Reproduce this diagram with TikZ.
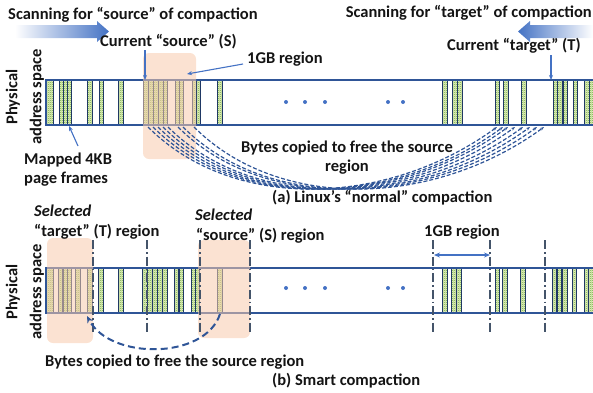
\documentclass[tikz,border=0pt]{standalone}
\usepackage{fontspec}
\setmainfont{Carlito}
\usetikzlibrary{patterns,arrows.meta}
\definecolor{barblue}{RGB}{47,85,151}
\definecolor{arrblue}{RGB}{68,114,196}
\definecolor{stripeedge}{RGB}{31,56,100}
\definecolor{stripefill}{RGB}{228,238,190}
\definecolor{stripedot}{RGB}{112,173,71}
\definecolor{peach}{RGB}{248,203,173}
\definecolor{vline}{RGB}{68,84,106}
\definecolor{txt}{RGB}{20,20,20}
\pgfdeclarepatternformonly{finecheck}{\pgfqpoint{0pt}{0pt}}{\pgfqpoint{2pt}{2pt}}{\pgfqpoint{2pt}{2pt}}{%
  \pgfpathrectangle{\pgfqpoint{0pt}{0pt}}{\pgfqpoint{1pt}{1pt}}%
  \pgfpathrectangle{\pgfqpoint{1pt}{1pt}}{\pgfqpoint{1pt}{1pt}}%
  \pgfusepath{fill}}
\tikzset{
  lbl/.style={font=\fontsize{16.5}{19}\selectfont\bfseries, text=txt, inner sep=0pt},
  stripe/.style={draw=stripeedge, line width=0.8pt, preaction={fill=stripefill}, pattern=finecheck, pattern color=stripedot},
  barline/.style={draw=barblue, line width=1.3pt},
  peachbox/.style={fill=peach, fill opacity=0.55, rounded corners=6pt},
  ptr/.style={draw=arrblue, line width=1.1pt, -{Stealth[length=5pt,width=4pt]}},
  copycurve/.style={draw=barblue, line width=1.2pt, dash pattern=on 4pt off 2pt, -{Stealth[length=4pt,width=3pt]}},
  bigcurve/.style={draw=barblue, line width=2pt, dash pattern=on 7pt off 4pt, -{Stealth[length=7pt,width=6pt]}},
  gbline/.style={draw=vline, line width=1.3pt, dash pattern=on 9pt off 3pt on 1.5pt off 3pt},
  dot/.style={circle, fill=arrblue, inner sep=0pt, minimum size=4pt}
}
\begin{document}
\begin{tikzpicture}[x=1pt,y=-1pt]
\useasboundingbox (0,0) rectangle (593,392);

% ---------------- top (a) ----------------
\shade[left color=white, right color=arrblue] (15,25) -- (97,25) -- (97,21) -- (109,31.5) -- (97,42) -- (97,38) -- (15,38) -- cycle;
\shade[left color=arrblue, right color=white] (593,25) -- (530,25) -- (530,21) -- (518,31.5) -- (530,42) -- (530,38) -- (593,38) -- cycle;

\node[lbl, anchor=west] (scanS) at (8,15) {Scanning for “source” of compaction};
\node[lbl, anchor=east] (scanT) at (592,13) {Scanning for “target” of compaction};
\node[lbl, anchor=west] (curS) at (100,42) {Current “source” (S)};
\node[lbl, anchor=west] (gbA) at (247,59) {1GB region};
\node[lbl, anchor=west] (curT) at (447,46) {Current “target” (T)};
\node[lbl, rotate=90, align=center] (physA) at (25,97) {Physical\\[5pt]address space};
\node[lbl, anchor=west, align=left] (mapped) at (24,170) {Mapped 4KB\\page frames};
\node[lbl, align=center] (bytesA) at (347,158) {Bytes copied to free the source\\region};
\node[lbl, anchor=west] (capA) at (272,198) {(a) Linux’s “normal” compaction};

\foreach \x/\w in {46/7,59/4,63/4,67/4,87/5,99/4,118/5,143/5,148/5,153/5,158/5,163/4,175/4,179/4,192/4,196/4,217/5,442/5,452/5,457/5,495/4,503/5,521/5,553/4,557/5,563/4,573/4,584/5,589/4}
  \path[stripe] (\x,80) rectangle ++(\w,45);
\draw[barline] (593,80) -- (46,80) -- (46,125) -- (593,125);
\foreach \x/\n in {286/a1,305/a2,325/a3,388/a4,403/a5} \node[dot] (\n) at (\x,102) {};

\fill[peachbox] (143,53) rectangle (196,159);

\coordinate (sA) at (145,80);
\coordinate (tA) at (551,80);
\coordinate (gA) at (187,74);
\coordinate (mA) at (69,126);
\draw[ptr] (145,50) -- (sA);
\draw[ptr] (551,55) -- (tA);
\draw[ptr] (243,64) -- (gA);
\draw[ptr] (78,146) -- (mA);

\foreach \s/\t in {148/497,153/503,158/508,163/515,168/523,178/530,183/537,194/544}
  \draw[copycurve] (\s,127) .. controls (\s+85,212) and (\t-110,207) .. (\t,127);

% ---------------- bottom (b) ----------------
\foreach \x/\w in {46/7,58/4,63/4,67/4,75/5,87/5,98/5,118/5,142/5,147/5,152/5,157/5,162/5,174/4,179/4,191/4,195/4,217/5,442/5,451/5,456/5,495/4,502/5,520/5,552/4,557/4,562/5,572/4,584/4,588/5}
  \path[stripe] (\x,268) rectangle ++(\w,45);
\draw[barline] (593,268) -- (46,268) -- (46,313) -- (593,313);
\foreach \x/\n in {286/b1,305/b2,325/b3,388/b4,403/b5} \node[dot] (\n) at (\x,288) {};

\fill[peachbox] (47,238) rectangle (93,343);
\fill[peachbox] (198,240) rectangle (250,338);

\foreach \x in {93,147,200,250,433,490,545}
  \draw[gbline] (\x,240) -- (\x,333);

\node[lbl, anchor=west] (selT) at (34,211) {\itshape Selected};
\node[lbl, anchor=west] (selT2) at (34,232) {“target” (T) region};
\node[lbl, anchor=west] (selS) at (195,215) {\itshape Selected};
\node[lbl, anchor=west] (selS2) at (196,236) {“source” (S) region};
\node[lbl, rotate=90, align=center] (physB) at (25,292) {Physical\\[5pt]address space};
\node[lbl, anchor=west] (gbB) at (424,232) {1GB region};
\node[lbl, anchor=west] (bytesB) at (45,362) {Bytes copied to free the source region};
\node[lbl, anchor=west] (capB) at (272,381) {(b) Smart compaction};

\coordinate (gL) at (434,255);
\coordinate (gR) at (490,255);
\draw[draw=arrblue, line width=1.3pt, {Stealth[length=6pt,width=5pt]}-{Stealth[length=6pt,width=5pt]}] (gL) -- (gR);

\coordinate (srcB) at (220,314);
\coordinate (dstB) at (87,316);
\draw[bigcurve] (srcB) .. controls (205,360) and (110,360) .. (dstB);
\end{tikzpicture}
\end{document}
